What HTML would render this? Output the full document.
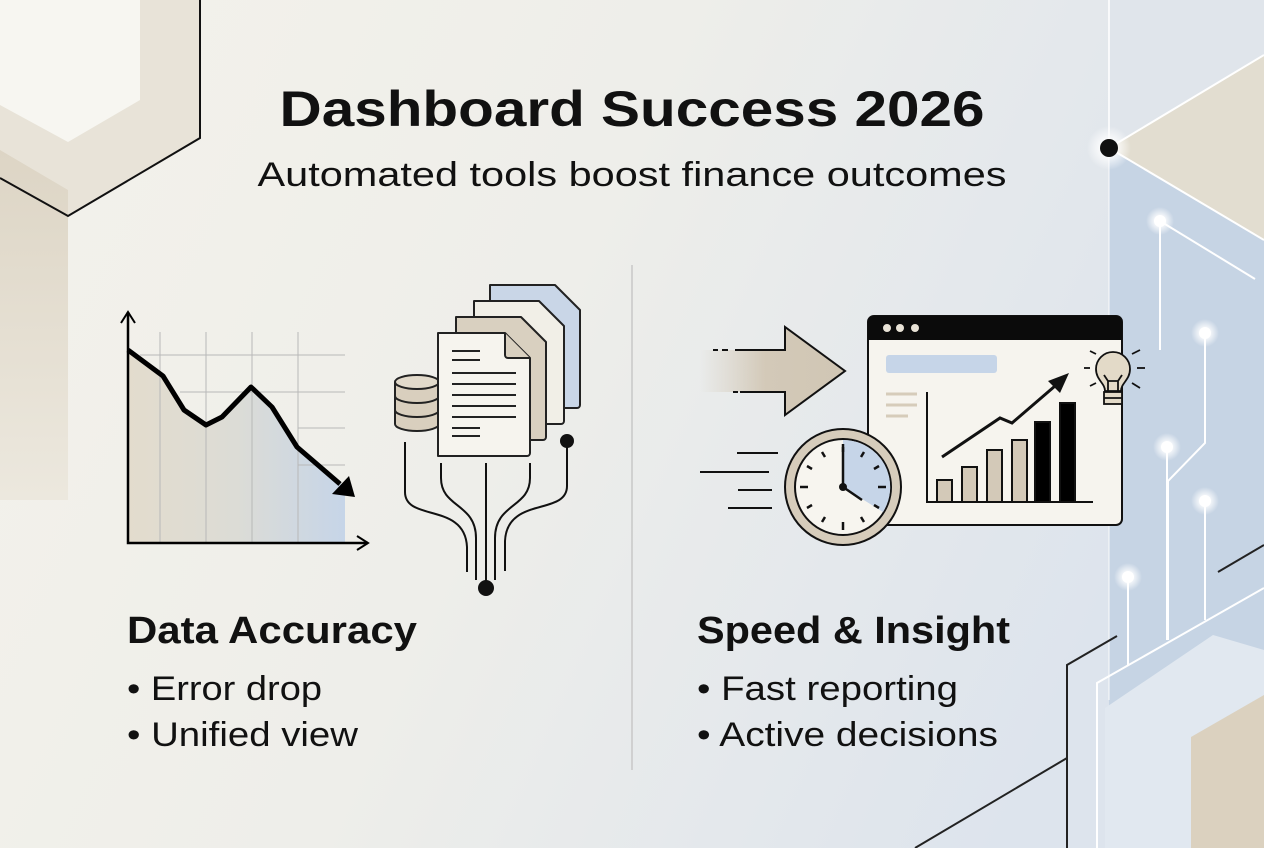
<!DOCTYPE html>
<html><head><meta charset="utf-8"><style>
html,body{margin:0;padding:0;width:1264px;height:848px;overflow:hidden}
svg{display:block}
text{font-family:"Liberation Sans",sans-serif;fill:#111}
</style></head><body>
<svg width="1264" height="848" viewBox="0 0 1264 848" xmlns="http://www.w3.org/2000/svg">
<defs>
<linearGradient id="bg" x1="0" y1="0" x2="1" y2="0.3">
<stop offset="0" stop-color="#f4f2eb"/><stop offset="0.5" stop-color="#eeeeea"/><stop offset="1" stop-color="#dde4ed"/>
</linearGradient>
<linearGradient id="area" x1="0" y1="0" x2="1" y2="0">
<stop offset="0" stop-color="#e3dccd"/><stop offset="0.5" stop-color="#dcdcd6"/><stop offset="1" stop-color="#c6d5e8"/>
</linearGradient>
<linearGradient id="arr" x1="0" y1="0" x2="1" y2="0">
<stop offset="0" stop-color="#d6cdbd" stop-opacity="0"/><stop offset="0.45" stop-color="#d3c9b8"/><stop offset="1" stop-color="#d0c6b4"/>
</linearGradient>
<linearGradient id="lb" x1="0" y1="0" x2="0" y2="1">
<stop offset="0" stop-color="#ddd5c5"/><stop offset="1" stop-color="#ece8de"/>
</linearGradient>
<radialGradient id="glow"><stop offset="0" stop-color="#fff"/><stop offset="0.4" stop-color="#fff" stop-opacity="0.8"/><stop offset="1" stop-color="#fff" stop-opacity="0"/></radialGradient>
</defs>
<rect width="1264" height="848" fill="url(#bg)"/>

<!-- left hex decoration -->
<polygon points="0,0 200,0 200,138 68,216 0,178" fill="#e8e3d8"/>
<polygon points="0,0 140,0 140,100 68,142 0,105" fill="#f7f6f1"/>
<polygon points="0,150 68,190 68,500 0,500" fill="url(#lb)"/>
<polyline points="200,0 200,138 68,216 0,178" fill="none" stroke="#111" stroke-width="2"/>

<!-- right decoration -->
<rect x="1109" y="0" width="155" height="148" fill="#e0e5eb"/>
<polygon points="1109,148 1264,240 1264,848 1109,848" fill="#c6d4e4"/>
<polygon points="1109,148 1264,55 1264,240" fill="#e2ddd0"/>
<line x1="1109" y1="0" x2="1109" y2="148" stroke="#fff" stroke-width="2" opacity="0.8"/>
<line x1="1109" y1="148" x2="1264" y2="55" stroke="#fff" stroke-width="2"/>
<line x1="1109" y1="148" x2="1264" y2="240" stroke="#fff" stroke-width="2"/>
<line x1="1109" y1="148" x2="1109" y2="700" stroke="#fff" stroke-width="1.5" opacity="0.6"/>
<polygon points="1105,708 1213,635 1264,650 1264,848 1105,848" fill="#e1e8f0"/>
<polygon points="1191,737 1264,695 1264,848 1191,848" fill="#dbd1bf"/>
<g stroke="#fff" stroke-width="2" fill="none">
<line x1="1160" y1="221" x2="1255" y2="279"/>
<line x1="1160" y1="221" x2="1160" y2="350"/>
<polyline points="1205,333 1205,443 1168,481 1168,640"/>
<line x1="1167" y1="447" x2="1167" y2="640"/>
<line x1="1205" y1="501" x2="1205" y2="620"/>
<line x1="1128" y1="577" x2="1128" y2="665"/>
<polyline points="1097,848 1097,683 1264,588"/>
</g>
<g fill="url(#glow)">
<circle cx="1160" cy="221" r="14"/><circle cx="1205" cy="333" r="14"/><circle cx="1167" cy="447" r="14"/>
<circle cx="1205" cy="501" r="14"/><circle cx="1128" cy="577" r="14"/><circle cx="1109" cy="148" r="22"/>
</g>
<g fill="#fff"><circle cx="1160" cy="221" r="6"/><circle cx="1205" cy="333" r="6"/><circle cx="1167" cy="447" r="6"/><circle cx="1205" cy="501" r="6"/><circle cx="1128" cy="577" r="6"/></g>
<circle cx="1109" cy="148" r="9" fill="#111"/>
<g stroke="#222" stroke-width="2" fill="none">
<line x1="1218" y1="572" x2="1264" y2="545"/>
<polyline points="1117,636 1067,665 1067,848"/>
<line x1="1067" y1="758" x2="915" y2="848"/>
</g>

<!-- titles -->
<text x="632" y="126" text-anchor="middle" font-size="50" font-weight="bold" textLength="705" lengthAdjust="spacingAndGlyphs">Dashboard Success 2026</text>
<text x="632" y="186" text-anchor="middle" font-size="34" textLength="749" lengthAdjust="spacingAndGlyphs">Automated tools boost finance outcomes</text>

<line x1="632" y1="265" x2="632" y2="770" stroke="#c8c8c8" stroke-width="1.5"/>

<!-- chart -->
<polygon points="128,350 163,376 184,410 206,425 222,417 251,387 272,407 297,447 345,487 345,543 128,543" fill="url(#area)"/>
<g stroke="#b8b8b8" stroke-width="1">
<line x1="160" y1="332" x2="160" y2="543"/><line x1="206" y1="332" x2="206" y2="543"/><line x1="252" y1="332" x2="252" y2="543"/><line x1="298" y1="332" x2="298" y2="543"/>
<line x1="140" y1="355" x2="345" y2="355"/><line x1="180" y1="392" x2="345" y2="392"/><line x1="298" y1="428" x2="345" y2="428"/><line x1="298" y1="465" x2="345" y2="465"/>
</g>
<polyline points="128,350 163,376 184,410 206,425 222,417 251,387 272,407 297,447 340,484" fill="none" stroke="#000" stroke-width="5" stroke-linejoin="round"/>
<polygon points="332,494 349,476 355,497" fill="#000"/>
<polyline points="128,312 128,543 368,543" fill="none" stroke="#000" stroke-width="2.5"/>
<polyline points="121,323 128,312 135,323" fill="none" stroke="#000" stroke-width="2"/>
<polyline points="357,536 368,543 357,550" fill="none" stroke="#000" stroke-width="2"/>

<!-- database -->
<g stroke="#222" stroke-width="2" fill="#d9cfbe">
<path d="M395,382 v42 a22,7 0 0 0 44,0 v-42"/>
<ellipse cx="417" cy="382" rx="22" ry="7" fill="#e2dacb"/>
<path d="M395,396 a22,7 0 0 0 44,0 M395,410 a22,7 0 0 0 44,0" fill="none"/>
</g>
<!-- docs -->
<g stroke="#222" stroke-width="2" stroke-linejoin="round">
<path d="M490,285 h65 l25,25 v95 a3,3 0 0 1 -3,3 h-87 z" fill="#c9d6e7"/>
<path d="M474,301 h65 l25,25 v95 a3,3 0 0 1 -3,3 h-87 z" fill="#f1efe7"/>
<path d="M456,317 h65 l25,25 v95 a3,3 0 0 1 -3,3 h-87 z" fill="#d9d0c0"/>
<path d="M438,333 h67 l25,25 v95 a3,3 0 0 1 -3,3 h-89 z" fill="#f6f4ee"/>
<path d="M505,333 v22 a3,3 0 0 0 3,3 h22" fill="#d9d0c0"/>
</g>
<g stroke="#222" stroke-width="2">
<line x1="452" y1="351" x2="480" y2="351"/><line x1="452" y1="360" x2="480" y2="360"/>
<line x1="452" y1="373" x2="516" y2="373"/><line x1="452" y1="384" x2="516" y2="384"/><line x1="452" y1="395" x2="516" y2="395"/><line x1="452" y1="406" x2="516" y2="406"/><line x1="452" y1="417" x2="516" y2="417"/>
<line x1="452" y1="428" x2="480" y2="428"/><line x1="452" y1="436" x2="480" y2="436"/>
</g>
<g stroke="#111" stroke-width="2" fill="none">
<path d="M405,442 v50 c0,30 60,10 62,55 v25"/>
<path d="M441,463 v15 c0,30 35,25 35,60 v42"/>
<line x1="486" y1="463" x2="486" y2="585"/>
<path d="M530,463 v15 c0,30 -35,25 -35,60 v42"/>
<path d="M567,441 v45 c0,30 -60,10 -62,55 v30"/>
</g>
<circle cx="567" cy="441" r="7" fill="#111"/><circle cx="486" cy="588" r="8" fill="#111"/>

<!-- right arrow -->
<polygon points="700,350 785,350 785,327 845,371 785,415 785,392 700,392" fill="url(#arr)"/>
<polyline points="735,350 785,350 785,327 845,371 785,415 785,392 740,392" fill="none" stroke="#111" stroke-width="2"/>
<g stroke="#111" stroke-width="2"><line x1="713" y1="350" x2="718" y2="350"/><line x1="722" y1="350" x2="728" y2="350"/><line x1="733" y1="392" x2="738" y2="392"/></g>
<g stroke="#111" stroke-width="2"><line x1="737" y1="453" x2="778" y2="453"/><line x1="700" y1="472" x2="769" y2="472"/><line x1="738" y1="490" x2="772" y2="490"/><line x1="728" y1="508" x2="772" y2="508"/></g>

<!-- window -->
<rect x="868" y="316" width="254" height="209" rx="6" fill="#f6f4ee" stroke="#111" stroke-width="2"/>
<path d="M868,340 v-18 a6,6 0 0 1 6,-6 h242 a6,6 0 0 1 6,6 v18 z" fill="#0b0b0b"/>
<g fill="#e8e2d6"><circle cx="887" cy="328" r="4"/><circle cx="900" cy="328" r="4"/><circle cx="915" cy="328" r="4"/></g>
<rect x="886" y="355" width="111" height="18" rx="3" fill="#c6d5e8"/>
<g stroke="#d6ccba" stroke-width="3"><line x1="886" y1="394" x2="917" y2="394"/><line x1="886" y1="405" x2="917" y2="405"/><line x1="886" y1="416" x2="908" y2="416"/></g>
<polyline points="927,392 927,502 1093,502" fill="none" stroke="#111" stroke-width="2"/>
<g stroke="#111" stroke-width="2">
<rect x="937" y="480" width="15" height="22" fill="#d3c9b8"/><rect x="962" y="467" width="15" height="35" fill="#d3c9b8"/>
<rect x="987" y="450" width="15" height="52" fill="#d3c9b8"/><rect x="1012" y="440" width="15" height="62" fill="#d3c9b8"/>
<rect x="1035" y="422" width="15" height="80" fill="#000"/><rect x="1060" y="403" width="15" height="99" fill="#000"/>
</g>
<polyline points="942,457 1000,418 1012,423 1062,380" fill="none" stroke="#111" stroke-width="3"/>
<polygon points="1069,373 1048,381 1060,393" fill="#111"/>
<!-- bulb -->
<g stroke="#111" stroke-width="1.8">
<path d="M1105,391 c0,-8 -9,-11 -9,-22 a17,17 0 0 1 34,0 c0,11 -9,14 -9,22 z" fill="#e3dac8"/>
<rect x="1104" y="392" width="18" height="12" fill="#e3dac8"/>
<line x1="1104" y1="398" x2="1122" y2="398"/>
<path d="M1108,391 v-10 l-4,-6 M1118,391 v-10 l4,-6 M1108,381 h10" fill="none"/>
<line x1="1084" y1="368" x2="1090" y2="368"/><line x1="1137" y1="368" x2="1145" y2="368"/>
<line x1="1090" y1="351" x2="1096" y2="354"/><line x1="1132" y1="354" x2="1140" y2="350"/>
<line x1="1090" y1="386" x2="1096" y2="383"/><line x1="1132" y1="383" x2="1140" y2="388"/>
</g>

<!-- clock -->
<circle cx="843" cy="487" r="58" fill="#d6ccbb" stroke="#111" stroke-width="2"/>
<circle cx="843" cy="487" r="48" fill="#f7f5ef" stroke="#111" stroke-width="2"/>
<path d="M843,487 v-47 a47,47 0 0 1 40,72 z" fill="#c6d5e8"/>
<g stroke="#111" stroke-width="2.5">
<line x1="843" y1="444" x2="843" y2="452"/><line x1="843" y1="522" x2="843" y2="530"/>
<line x1="800" y1="487" x2="808" y2="487"/><line x1="878" y1="487" x2="886" y2="487"/>
<line x1="864" y1="452" x2="861" y2="457"/><line x1="879" y1="466" x2="874" y2="469"/><line x1="879" y1="508" x2="874" y2="505"/><line x1="864" y1="522" x2="861" y2="517"/>
<line x1="822" y1="452" x2="825" y2="457"/><line x1="807" y1="466" x2="812" y2="469"/><line x1="807" y1="508" x2="812" y2="505"/><line x1="822" y1="522" x2="825" y2="517"/>
<line x1="843" y1="487" x2="843" y2="447"/><line x1="843" y1="487" x2="862" y2="500"/>
</g>
<circle cx="843" cy="487" r="4" fill="#111"/>

<!-- text -->
<text x="127" y="643" font-size="38" font-weight="bold" textLength="290" lengthAdjust="spacingAndGlyphs">Data Accuracy</text>
<text x="127" y="700" font-size="34" textLength="195" lengthAdjust="spacingAndGlyphs">• Error drop</text>
<text x="127" y="746" font-size="34" textLength="231" lengthAdjust="spacingAndGlyphs">• Unified view</text>
<text x="697" y="643" font-size="38" font-weight="bold" textLength="313" lengthAdjust="spacingAndGlyphs">Speed &amp; Insight</text>
<text x="697" y="700" font-size="34" textLength="261" lengthAdjust="spacingAndGlyphs">• Fast reporting</text>
<text x="697" y="746" font-size="34" textLength="301" lengthAdjust="spacingAndGlyphs">• Active decisions</text>
</svg>
</body></html>
